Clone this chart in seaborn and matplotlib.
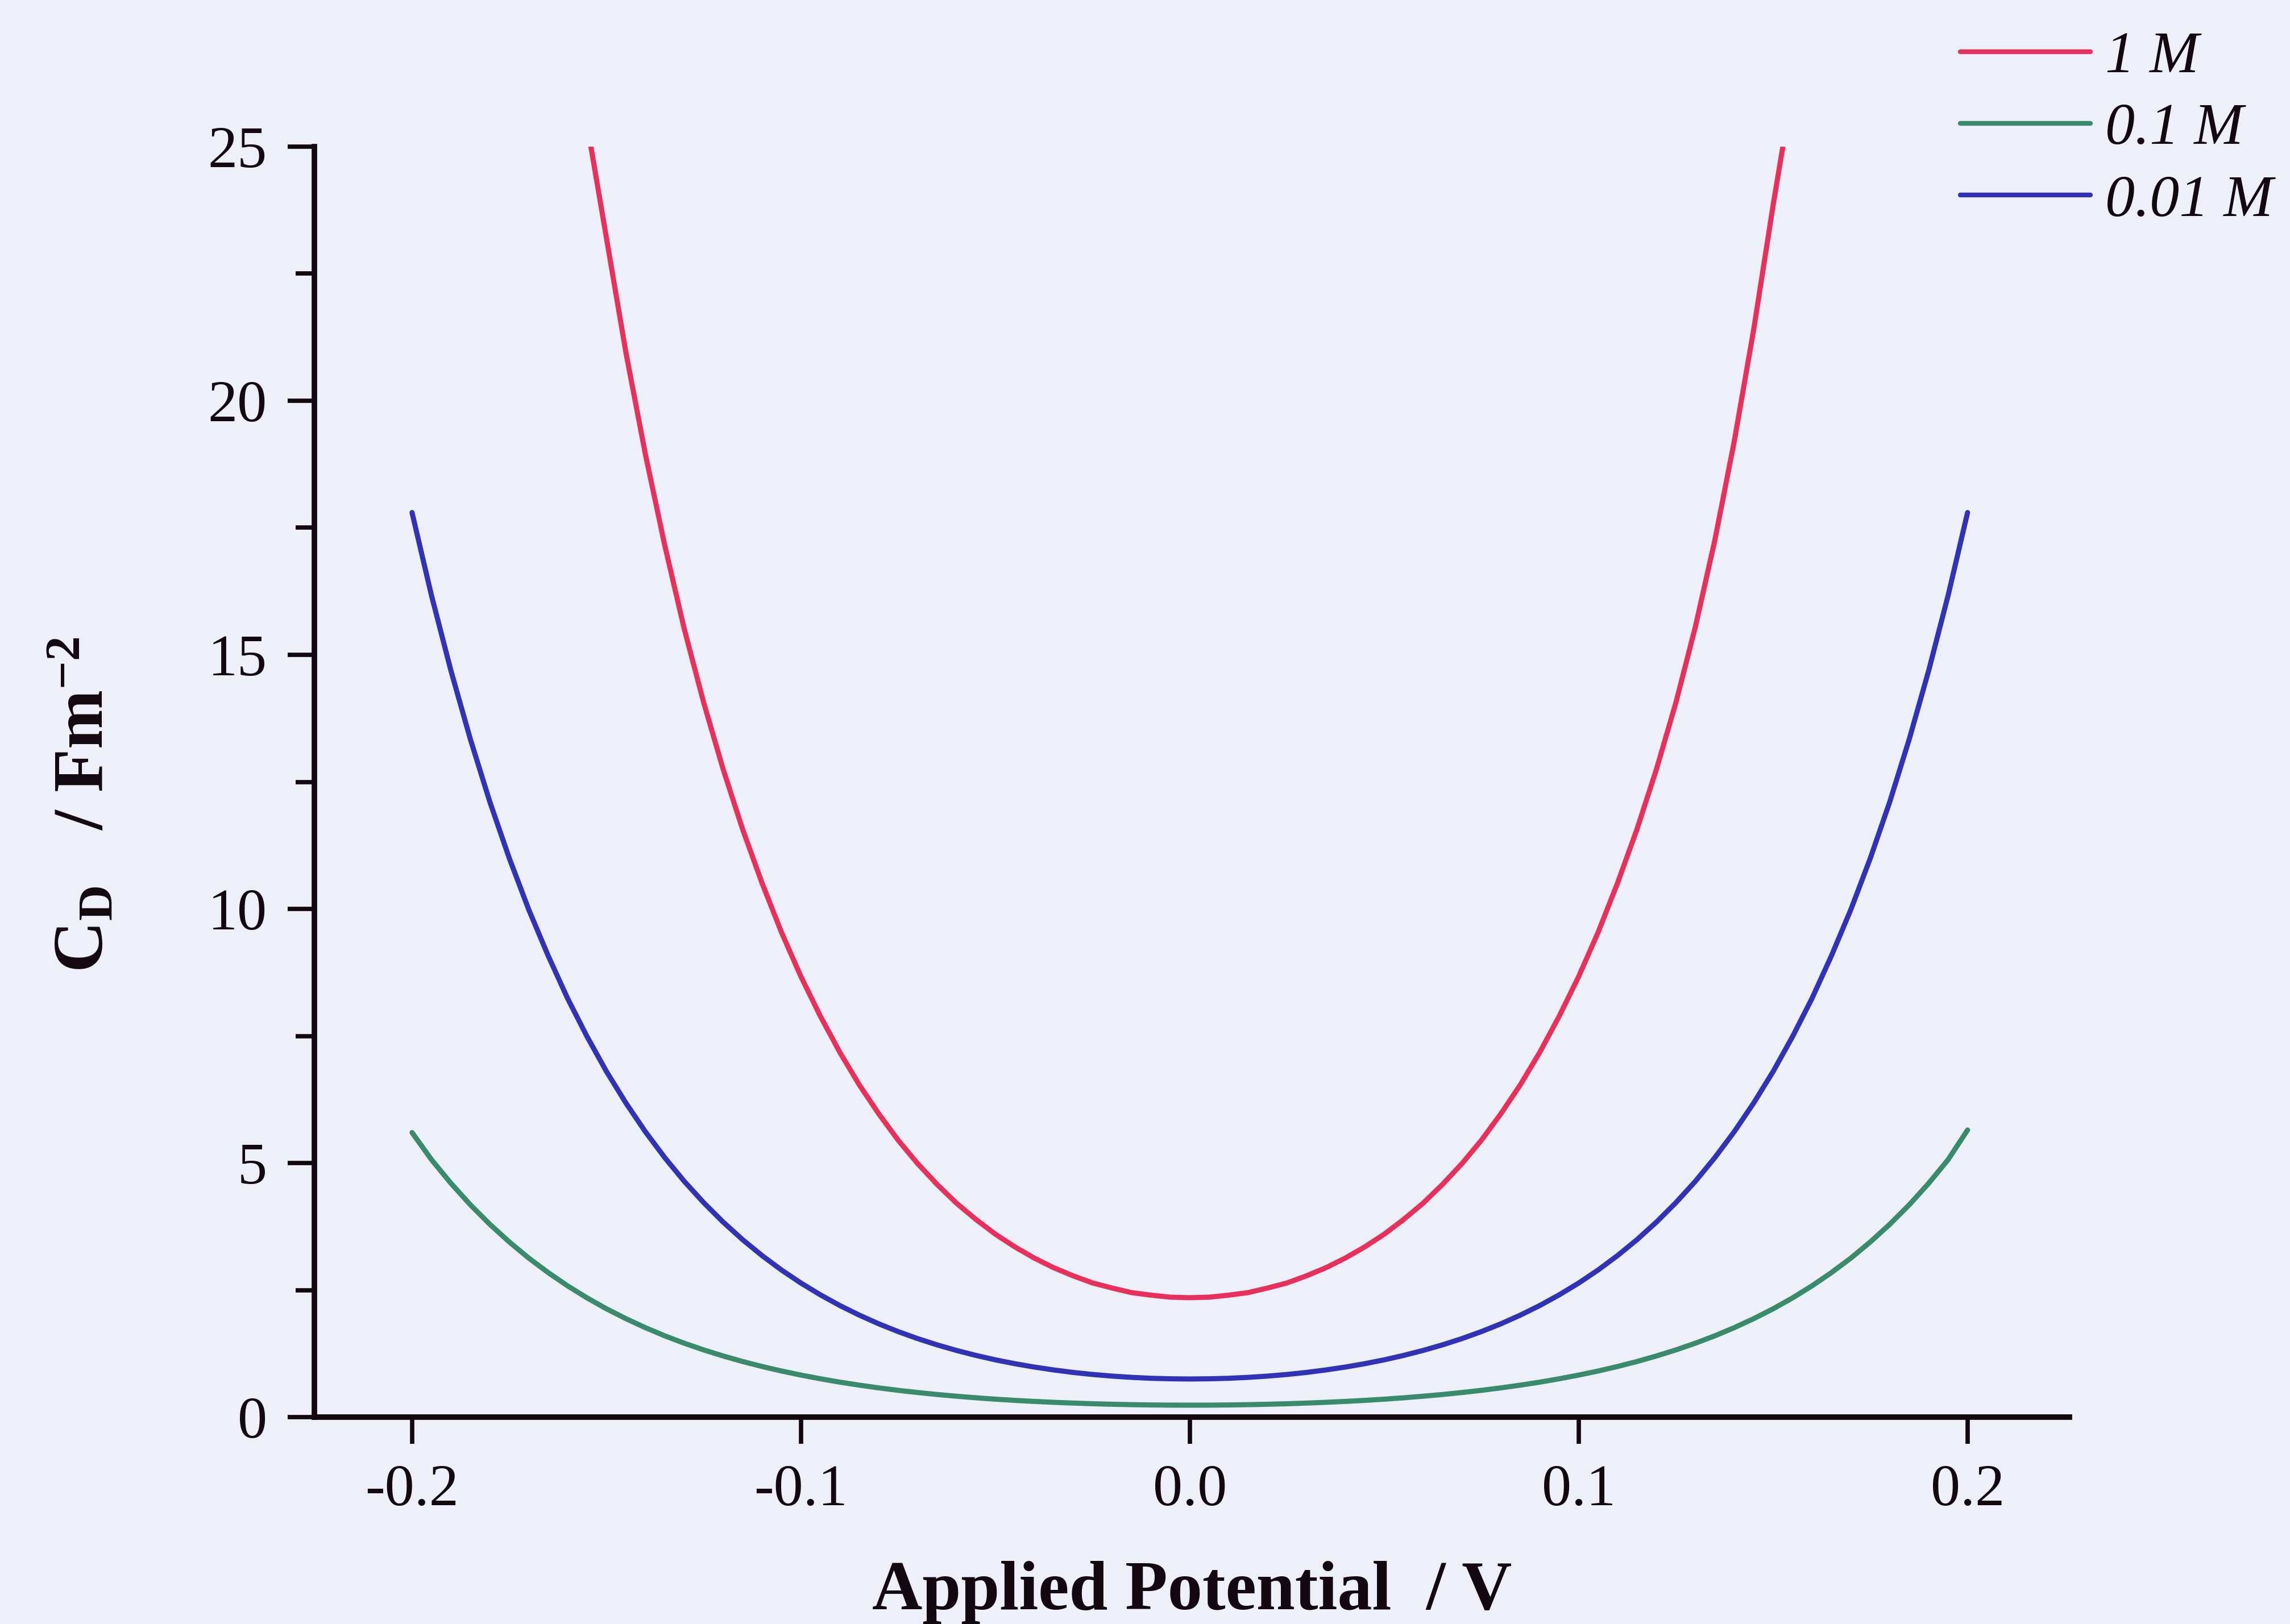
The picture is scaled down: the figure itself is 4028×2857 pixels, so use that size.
import numpy as np
import pandas as pd
import matplotlib
matplotlib.use("Agg")
import matplotlib.pyplot as plt
import seaborn as sns
from matplotlib.ticker import MultipleLocator

# ---- data (potential in V, C_D in F m^-2) ----
x_full = [-0.200, -0.195, -0.190, -0.185, -0.180, -0.175, -0.170, -0.165, -0.160,
          -0.155, -0.150, -0.145, -0.140, -0.135, -0.130, -0.125, -0.120, -0.115,
          -0.110, -0.105, -0.100, -0.095, -0.090, -0.085, -0.080, -0.075, -0.070,
          -0.065, -0.060, -0.055, -0.050, -0.045, -0.040, -0.035, -0.030, -0.025,
          -0.020, -0.015, -0.010, -0.005, 0.000, 0.005, 0.010, 0.015, 0.020,
          0.025, 0.030, 0.035, 0.040, 0.045, 0.050, 0.055, 0.060, 0.065, 0.070,
          0.075, 0.080, 0.085, 0.090, 0.095, 0.100, 0.105, 0.110, 0.115, 0.120,
          0.125, 0.130, 0.135, 0.140, 0.145, 0.150, 0.155, 0.160, 0.165, 0.170,
          0.175, 0.180, 0.185, 0.190, 0.195, 0.200]
cd_001M = [17.80, 16.17, 14.69, 13.34, 12.11, 11.00, 9.99, 9.08, 8.24,
           7.489, 6.801, 6.181, 5.616, 5.105, 4.640, 4.220, 3.838, 3.492,
           3.179, 2.895, 2.638, 2.406, 2.196, 2.007, 1.836, 1.683, 1.545,
           1.422, 1.312, 1.214, 1.127, 1.051, 0.985, 0.928, 0.879, 0.839,
           0.807, 0.782, 0.764, 0.754, 0.750, 0.754, 0.764, 0.782, 0.807,
           0.839, 0.879, 0.928, 0.985, 1.051, 1.127, 1.214, 1.312, 1.422, 1.545,
           1.683, 1.836, 2.007, 2.196, 2.406, 2.638, 2.895, 3.179, 3.492, 3.838,
           4.220, 4.640, 5.105, 5.616, 6.181, 6.801, 7.489, 8.24, 9.08, 9.99,
           11.00, 12.11, 13.34, 14.69, 16.17, 17.80]
cd_01M = [5.60, 5.067, 4.601, 4.178, 3.795, 3.447, 3.130, 2.844, 2.583,
          2.346, 2.131, 1.937, 1.760, 1.599, 1.454, 1.322, 1.203, 1.094,
          0.996, 0.907, 0.827, 0.754, 0.688, 0.629, 0.575, 0.527, 0.484,
          0.445, 0.411, 0.380, 0.353, 0.329, 0.309, 0.291, 0.276, 0.263,
          0.253, 0.245, 0.239, 0.236, 0.235, 0.236, 0.239, 0.245, 0.253,
          0.263, 0.276, 0.291, 0.309, 0.329, 0.353, 0.380, 0.411, 0.445, 0.484,
          0.527, 0.575, 0.629, 0.688, 0.754, 0.827, 0.907, 0.996, 1.094, 1.203,
          1.322, 1.454, 1.599, 1.760, 1.937, 2.131, 2.346, 2.583, 2.844, 3.130,
          3.447, 3.795, 4.178, 4.601, 5.067, 5.65]
x_1M = [-0.154, -0.150, -0.145, -0.140, -0.135, -0.130, -0.125, -0.120, -0.115,
        -0.110, -0.105, -0.100, -0.095, -0.090, -0.085, -0.080, -0.075, -0.070,
        -0.065, -0.060, -0.055, -0.050, -0.045, -0.040, -0.035, -0.030, -0.025,
        -0.020, -0.015, -0.010, -0.005, 0.000, 0.005, 0.010, 0.015, 0.020,
        0.025, 0.030, 0.035, 0.040, 0.045, 0.050, 0.055, 0.060, 0.065, 0.070,
        0.075, 0.080, 0.085, 0.090, 0.095, 0.100, 0.105, 0.110, 0.115, 0.120,
        0.125, 0.130, 0.135, 0.140, 0.145, 0.150, 0.1525]
cd_1M = [25.0, 23.2, 20.95, 18.95, 17.15, 15.51, 14.06, 12.75, 11.57,
         10.51, 9.54, 8.67, 7.89, 7.18, 6.54, 5.97, 5.45, 4.99,
         4.58, 4.21, 3.89, 3.60, 3.35, 3.13, 2.94, 2.78, 2.64,
         2.54, 2.45, 2.40, 2.36, 2.35, 2.36, 2.40, 2.45, 2.54,
         2.64, 2.78, 2.94, 3.13, 3.35, 3.60, 3.89, 4.21, 4.58, 4.99,
         5.45, 5.97, 6.54, 7.18, 7.89, 8.67, 9.54, 10.51, 11.57, 12.75,
         14.06, 15.55, 17.25, 19.2, 21.4, 23.85, 25.0]
labels = ["1 M", "0.1 M", "0.01 M"]
colors = ["#E8305C", "#3A8A6C", "#3232B6"]
x_ticks = [-0.2, -0.1, 0.0, 0.1, 0.2]
x_ticklabels = ["-0.2", "-0.1", "0.0", "0.1", "0.2"]
y_ticks = [0, 5, 10, 15, 20, 25]

df = pd.concat([
    pd.DataFrame({"x": x_1M, "y": cd_1M, "conc": labels[0]}),
    pd.DataFrame({"x": x_full, "y": cd_01M, "conc": labels[1]}),
    pd.DataFrame({"x": x_full, "y": cd_001M, "conc": labels[2]}),
], ignore_index=True)

sns.set_style("ticks")
bg = "#EEF0F9"
ink = "#140810"
plt.rcParams["font.family"] = ["Liberation Serif", "DejaVu Serif"]
plt.rcParams["mathtext.fontset"] = "custom"
plt.rcParams["mathtext.rm"] = "Liberation Serif"
plt.rcParams["mathtext.bf"] = "Liberation Serif:bold"
plt.rcParams["mathtext.it"] = "Liberation Serif:italic"
plt.rcParams["text.color"] = ink
plt.rcParams["axes.labelcolor"] = ink
plt.rcParams["xtick.color"] = ink
plt.rcParams["ytick.color"] = ink

fig = plt.figure(figsize=(40.28, 28.57), dpi=100, facecolor=bg)
ax = fig.add_axes([0.1373, 0.1274, 0.7664, 0.7823])
ax.set_facecolor(bg)

sns.lineplot(data=df, x="x", y="y", hue="conc", hue_order=labels,
             palette=dict(zip(labels, colors)), linewidth=6.5, sort=False,
             estimator=None, ax=ax, legend=True)

ax.set_xlim(-0.2251, 0.2262)
ax.set_ylim(0, 25)
ax.set_xticks(x_ticks)
ax.set_xticklabels(x_ticklabels)
ax.set_yticks(y_ticks)
ax.yaxis.set_minor_locator(MultipleLocator(2.5))
for s in ["top", "right"]:
    ax.spines[s].set_visible(False)
for s in ["left", "bottom"]:
    ax.spines[s].set_linewidth(7)
    ax.spines[s].set_color(ink)
    ax.spines[s].set_capstyle("projecting")
ax.tick_params(axis="both", which="major", direction="out", length=34, width=5.5,
               labelsize=75, pad=26, color=ink, labelcolor=ink)
ax.tick_params(axis="y", which="minor", direction="out", length=24, width=5.5,
               color=ink)

ax.set_xlabel("Applied Potential  / V", fontsize=88, fontweight="bold")
ax.set_ylabel(r"$\mathbf{C}_{\mathbf{D}}$   / Fm$^{\mathbf{-2}}$", fontsize=90,
              fontweight="bold")
ax.xaxis.set_label_coords(0.5, -0.113)
ax.yaxis.set_label_coords(-0.112, 0.482)

handles, lbls = ax.get_legend_handles_labels()
leg = ax.legend(handles, lbls, loc="upper left", bbox_to_anchor=(0.856, 0.981),
                bbox_transform=fig.transFigure, frameon=False,
                prop={"family": "Liberation Serif", "style": "italic", "size": 75},
                handlelength=2.2, handletextpad=0.25, labelspacing=0.3,
                borderpad=0, borderaxespad=0)
for h in leg.get_lines():
    h.set_linewidth(6.0)

fig.savefig("out.png", dpi=100, facecolor=bg)
